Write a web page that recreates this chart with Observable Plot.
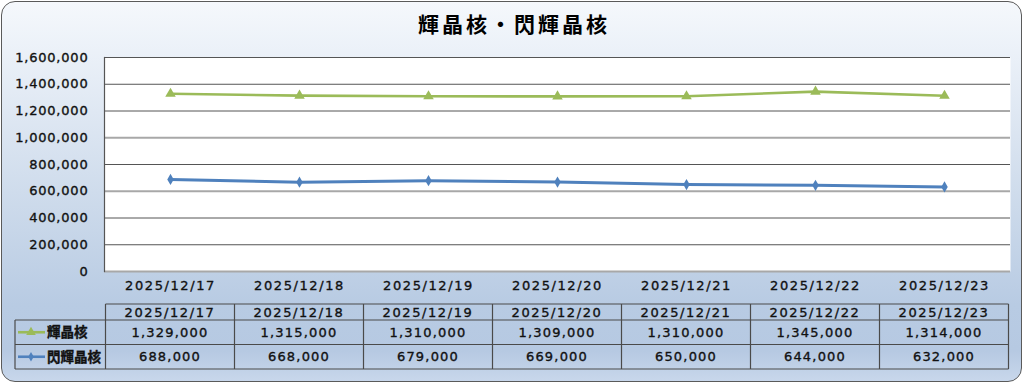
<!DOCTYPE html>
<html><head><meta charset="utf-8">
<script src="https://cdn.jsdelivr.net/npm/d3@7"></script>
<script src="https://cdn.jsdelivr.net/npm/@observablehq/plot@0.6"></script>
<style>
body{margin:0;background:#fff;}
#wrap{position:relative;width:1024px;height:384px;overflow:hidden;font-family:"DejaVu Sans","Noto Sans CJK JP",sans-serif;}
#bg{position:absolute;left:1px;top:1px;width:1019px;height:379px;border:1.5px solid #5a5a5a;border-radius:14px;
 background:linear-gradient(to bottom,#f5f8fc 0%,#e6edf6 20%,#cfdcec 50%,#b8cbe3 80%,#b6c9e2 92%,#c8d7eb 100%);}
#title{position:absolute;left:2px;top:8px;width:1024px;text-align:center;font:bold 21px "Noto Sans CJK JP",sans-serif;letter-spacing:3px;color:#000;}
#chart{position:absolute;left:0;top:0;}
#chart svg text{stroke:#111;stroke-width:0.35px;}
#chart svg g[aria-label="y-axis tick label"] text{letter-spacing:0.8px;}
#chart svg g[aria-label="x-axis tick label"] text{letter-spacing:1.6px;}
</style></head>
<body><div id="wrap"><div id="bg"></div><div id="title">輝晶核・閃輝晶核</div><div id="chart"></div></div>
<script>
const dates = ["2025/12/17","2025/12/18","2025/12/19","2025/12/20","2025/12/21","2025/12/22","2025/12/23"];
const seriesNames = ["輝晶核","閃輝晶核"];
const kishokaku = [1329000,1315000,1310000,1309000,1310000,1345000,1314000];
const senkishokaku = [688000,668000,679000,669000,650000,644000,632000];
const yTicks = [0,200000,400000,600000,800000,1000000,1200000,1400000,1600000];
const lightGrid = [0,600000,1000000];

const colors = ["#9bbb59","#4f81bd"];
const symbols = ["triangle","diamond"];
const fmt = d3.format(",");
const rowsA = dates.map((d,i)=>({date:d, value:kishokaku[i], series:seriesNames[0]}));
const rowsB = dates.map((d,i)=>({date:d, value:senkishokaku[i], series:seriesNames[1]}));

const plot = Plot.plot({
  width:1024, height:384,
  marginTop:57, marginBottom:113, marginLeft:104, marginRight:14,
  style:{background:"transparent", fontFamily:"'DejaVu Sans','Noto Sans CJK JP',sans-serif", fontSize:"13px", color:"#111"},
  x:{type:"point", domain:dates, padding:0.5, label:null},
  y:{domain:[0,1600000], label:null},
  marks:[
    Plot.frame({fill:"white", stroke:null}),
    Plot.ruleY(yTicks.filter(t=>!lightGrid.includes(t)), {stroke:"#555", strokeWidth:1}),
    Plot.ruleY(lightGrid, {stroke:"#a8a8a8", strokeWidth:2}),
    Plot.frame({anchor:"left", stroke:"#555", strokeWidth:1.2}),
    Plot.axisY({ticks:yTicks, tickSize:0, tickPadding:16, tickFormat:fmt, fontSize:13, fill:"#111", label:null}),
    Plot.axisX({tickSize:0, tickPadding:9, fontSize:13, label:null}),
    Plot.line(rowsA, {x:"date", y:"value", stroke:colors[0], strokeWidth:2.6}),
    Plot.dot(rowsA, {x:"date", y:"value", symbol:()=>symbols[0], fill:colors[0], r:3.9, stroke:null}),
    Plot.line(rowsB, {x:"date", y:"value", stroke:colors[1], strokeWidth:3}),
    Plot.dot(rowsB, {x:"date", y:"value", symbol:()=>symbols[1], fill:colors[1], r:3.4, stroke:null})
  ]
});
document.getElementById("chart").appendChild(plot);

// data table below the chart, aligned with the x scale
const svg = d3.select(plot);
const xs = plot.scale("x");
const cx = d => xs.apply(d);
const step = cx(dates[1]) - cx(dates[0]);
const left = cx(dates[0]) - step/2, right = cx(dates[dates.length-1]) + step/2;
const legL = 15;
const yTop = 304, yH = 320, y1 = 344.5, yBot = 369;
const g = svg.append("g").attr("stroke","#4a4a4a").attr("stroke-width",1.2);
g.append("line").attr("x1",left).attr("x2",right).attr("y1",yTop).attr("y2",yTop);
[yH,y1,yBot].forEach(y=>g.append("line").attr("x1",legL).attr("x2",right).attr("y1",y).attr("y2",y));
g.append("line").attr("x1",legL).attr("x2",legL).attr("y1",yH).attr("y2",yBot);
for(let i=0;i<=dates.length;i++){
  const x = left + i*step;
  g.append("line").attr("x1",x).attr("x2",x).attr("y1",yTop).attr("y2",yBot);
}
const t = svg.append("g").attr("font-family","'DejaVu Sans','Noto Sans CJK JP',sans-serif").attr("font-size",13).attr("fill","#111").attr("text-anchor","middle");
dates.forEach(d=>t.append("text").attr("x",cx(d)).attr("y",(yTop+yH)/2).attr("dy","0.36em").attr("letter-spacing","1.6px").text(d));
const series = [kishokaku, senkishokaku];
const rowMid = [(yH+y1)/2, (y1+yBot)/2];
series.forEach((vals,si)=>{
  dates.forEach((d,i)=>t.append("text").attr("x",cx(d)).attr("y",rowMid[si]).attr("dy","0.36em").attr("letter-spacing","1.2px").text(fmt(vals[i])));
  const lg = svg.append("g");
  lg.append("line").attr("x1",18).attr("x2",45).attr("y1",rowMid[si]).attr("y2",rowMid[si]).attr("stroke",colors[si]).attr("stroke-width",2.6);
  lg.append("path").attr("transform",`translate(31,${rowMid[si]})`).attr("fill",colors[si])
    .attr("d", d3.symbol(si===0?d3.symbolTriangle:d3.symbolDiamond, si===0?40:26)());
  lg.append("text").attr("x",47).attr("y",rowMid[si]).attr("dy","0.36em").attr("text-anchor","start").attr("font-family","'Noto Sans CJK JP',sans-serif")
    .attr("font-size",13.5).attr("font-weight","bold").attr("fill","#111").text(seriesNames[si]);
});
</script>
</body></html>
